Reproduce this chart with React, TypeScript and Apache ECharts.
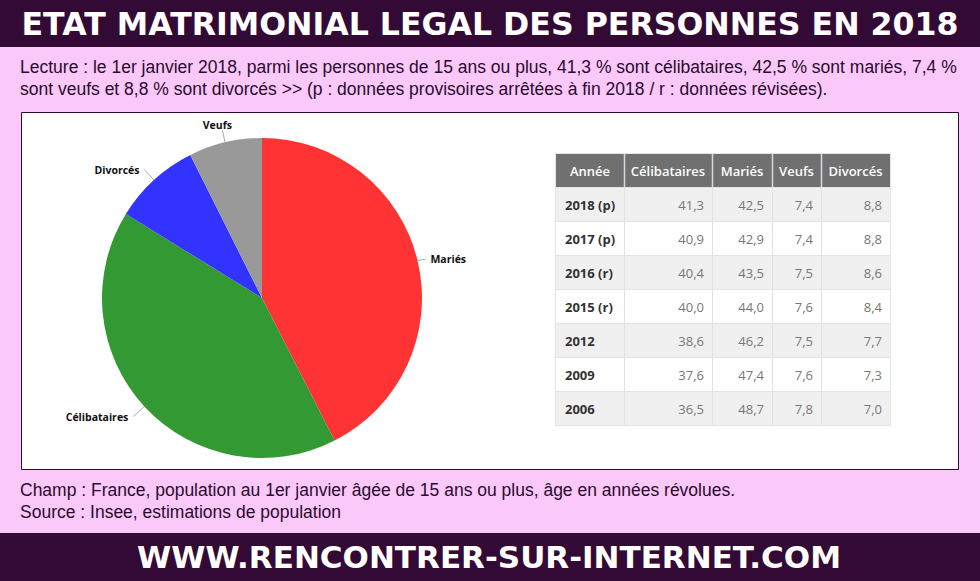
import React, { useEffect, useRef } from "react";
import * as echarts from "echarts";

const TITLE = "ETAT MATRIMONIAL LEGAL DES PERSONNES EN 2018";
const LECTURE_LINES = [
  "Lecture : le 1er janvier 2018, parmi les personnes de 15 ans ou plus, 41,3 % sont célibataires, 42,5 % sont mariés, 7,4 %",
  "sont veufs et 8,8 % sont divorcés >> (p : données provisoires arrêtées à fin 2018 / r : données révisées).",
];
const NOTES = [
  "Champ : France, population au 1er janvier âgée de 15 ans ou plus, âge en années révolues.",
  "Source : Insee, estimations de population",
];
const FOOTER = "WWW.RENCONTRER-SUR-INTERNET.COM";

// Pie (2018)
const pieCategories = ["Mariés", "Célibataires", "Divorcés", "Veufs"];
const pieValues = [42.5, 41.3, 8.8, 7.4];
const pieColors = ["#ff3333", "#339933", "#3333ff", "#999999"];
const pieLineLengths = [5, 15, 14, 12];
const pieLineLengths2 = [3, 0, 0, 0];

// Table
const tableHeaders = ["Année", "Célibataires", "Mariés", "Veufs", "Divorcés"];
const years = ["2018 (p)", "2017 (p)", "2016 (r)", "2015 (r)", "2012", "2009", "2006"];
const celibataires = [41.3, 40.9, 40.4, 40.0, 38.6, 37.6, 36.5];
const maries = [42.5, 42.9, 43.5, 44.0, 46.2, 47.4, 48.7];
const veufs = [7.4, 7.4, 7.5, 7.6, 7.5, 7.6, 7.8];
const divorces = [8.8, 8.8, 8.6, 8.4, 7.7, 7.3, 7.0];

const DARK = "#320a35";
const PINK = "#fac9fa";
const TXT = "#2a0b2d";

function fmt(v: number) {
  return v.toFixed(1).replace(".", ",");
}

export default function App() {
  const ref = useRef<HTMLDivElement>(null);
  useEffect(() => {
    if (!ref.current) return;
    const chart = echarts.init(ref.current, undefined, { renderer: "svg" });

    const colX = [556, 624, 712, 772, 821, 890];
    const headY = 154;
    const headH = 33;
    const rowH = 34;
    const cols = [celibataires, maries, veufs, divorces];
    const tableEls: any[] = [];
    const bodyTop = headY + headH;
    const tableBottom = bodyTop + years.length * rowH;
    tableEls.push({
      type: "rect",
      shape: { x: colX[0] - 1, y: headY - 1, width: colX[5] - colX[0] + 2, height: tableBottom - headY + 2 },
      style: { fill: "#e4e4e4" },
      z: 3,
    });
    tableEls.push({
      type: "rect",
      shape: { x: colX[0], y: headY, width: colX[5] - colX[0], height: headH },
      style: { fill: "#707070" },
      z: 4,
    });
    tableHeaders.forEach((h, c) => {
      tableEls.push({
        type: "text",
        x: (colX[c] + colX[c + 1]) / 2,
        y: headY + headH / 2,
        style: {
          text: h,
          fill: "#ffffff",
          fontFamily: "Open Sans",
          fontWeight: 600,
          fontSize: 13,
          align: "center",
          verticalAlign: "middle",
        },
        z: 6,
      });
    });
    years.forEach((yr, r) => {
      const y = bodyTop + r * rowH;
      tableEls.push({
        type: "rect",
        shape: { x: colX[0], y: y + 1, width: colX[5] - colX[0], height: rowH - 1 },
        style: { fill: r % 2 === 0 ? "#f0f0f0" : "#ffffff" },
        z: 4,
      });
      tableEls.push({
        type: "text",
        x: colX[0] + 9,
        y: y + rowH / 2 + 1,
        style: {
          text: yr,
          fill: "#333333",
          fontFamily: "Open Sans",
          fontWeight: "bold",
          fontSize: 13,
          align: "left",
          verticalAlign: "middle",
        },
        z: 6,
      });
      cols.forEach((arr, c) => {
        tableEls.push({
          type: "text",
          x: colX[c + 2] - 8,
          y: y + rowH / 2 + 1,
          style: {
            text: fmt(arr[r]),
            fill: "#777777",
            fontFamily: "Open Sans",
            fontSize: 13,
            align: "right",
            verticalAlign: "middle",
          },
          z: 6,
        });
      });
    });
    for (let c = 1; c < colX.length - 1; c++) {
      tableEls.push({
        type: "line",
        shape: { x1: colX[c] + 0.5, y1: headY, x2: colX[c] + 0.5, y2: headY + headH },
        style: { stroke: "#d8d8d8", lineWidth: 1.5 },
        z: 5,
      });
      tableEls.push({
        type: "line",
        shape: { x1: colX[c] + 0.5, y1: bodyTop, x2: colX[c] + 0.5, y2: tableBottom },
        style: { stroke: "#e2e2e2", lineWidth: 1 },
        z: 5,
      });
    }

    const option: any = {
      animation: false,
      backgroundColor: PINK,
      graphic: [
        { type: "rect", shape: { x: 0, y: 0, width: 980, height: 47 }, style: { fill: DARK }, z: 0 },
        {
          type: "text",
          x: 490,
          y: 24,
          style: {
            text: TITLE,
            fill: "#ffffff",
            fontFamily: "DejaVu Sans",
            fontWeight: "bold",
            fontSize: 31.6,
            align: "center",
            verticalAlign: "middle",
          },
          z: 1,
        },
        ...LECTURE_LINES.map((t, i) => ({
          type: "text",
          x: 20,
          y: 67 + i * 22,
          style: {
            text: t,
            fill: TXT,
            fontFamily: "Liberation Sans",
            fontSize: 17.5,
            align: "left",
            verticalAlign: "middle",
          },
          z: 1,
        })),
        {
          type: "rect",
          shape: { x: 21.5, y: 112.5, width: 937, height: 357 },
          style: { fill: "#ffffff", stroke: DARK, lineWidth: 1 },
          z: 0,
        },
        ...NOTES.map((t, i) => ({
          type: "text",
          x: 20,
          y: 490 + i * 22,
          style: {
            text: t,
            fill: TXT,
            fontFamily: "Liberation Sans",
            fontSize: 17.5,
            align: "left",
            verticalAlign: "middle",
          },
          z: 1,
        })),
        { type: "rect", shape: { x: 0, y: 533, width: 980, height: 48 }, style: { fill: DARK }, z: 0 },
        {
          type: "text",
          x: 489,
          y: 557,
          style: {
            text: FOOTER,
            fill: "#ffffff",
            fontFamily: "DejaVu Sans",
            fontWeight: "bold",
            fontSize: 31,
            align: "center",
            verticalAlign: "middle",
          },
          z: 1,
        },
        ...tableEls,
      ],
      series: [
        {
          type: "pie",
          center: [262, 298],
          radius: 160,
          startAngle: 90,
          clockwise: true,
          z: 3,
          data: pieCategories.map((n, i) => ({
            name: n,
            value: pieValues[i],
            itemStyle: { color: pieColors[i] },
            labelLine: { length: pieLineLengths[i], length2: pieLineLengths2[i] },
          })),
          label: {
            show: true,
            position: "outside",
            formatter: "{b}",
            fontFamily: "Open Sans",
            fontWeight: "bold",
            fontSize: 10.5,
            color: "#111111",
          },
          labelLine: {
            show: true,
            lineStyle: { color: "#aaaaaa", width: 1 },
          },
          labelLayout: (params: any) =>
            params.dataIndex === 3 ? { align: "center", verticalAlign: "bottom" } : {},
          emphasis: { disabled: true },
        },
      ],
    };
    chart.setOption(option);
    return () => chart.dispose();
  }, []);
  return (
    <div
      ref={ref}
      style={{ position: "absolute", left: 0, top: 0, width: 980, height: 581 }}
    />
  );
}
